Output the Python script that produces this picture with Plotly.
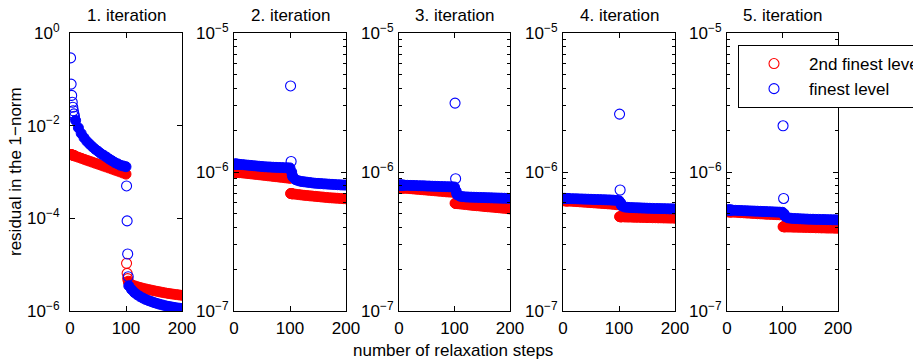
import plotly.graph_objects as go

# ---------------- data ----------------
STEPS = [1, 2, 3, 4, 5, 6, 7, 8,
         10, 15, 20, 25, 30, 35, 40, 45, 50, 55, 60, 65, 70, 75, 80, 85, 90, 95, 100,
         101, 102, 103, 104,
         105, 110, 115, 120, 125, 130, 135, 140, 145, 150, 155, 160, 165, 170, 175, 180, 185, 190, 195, 200]

TITLES = ["1. iteration", "2. iteration", "3. iteration", "4. iteration", "5. iteration"]
SERIES_NAMES = ["2nd finest level", "finest level"]

# finest level (blue)
FINE_1 = [0.29, 0.079, 0.045, 0.032, 0.025, 0.021, 0.018, 0.016,
          0.013, 0.0090, 0.0068, 0.0055, 0.0046, 0.0040, 0.0035, 0.0031, 0.0028, 0.0025, 0.0023, 0.0021,
          0.0019, 0.00175, 0.0016, 0.0015, 0.0014, 0.00135, 0.0013,
          5.0e-4, 8.8e-5, 1.7e-5, 5.5e-6,
          3.5e-6, 2.9e-6, 2.5e-6, 2.25e-6, 2.05e-6, 1.9e-6, 1.78e-6, 1.68e-6, 1.6e-6, 1.52e-6,
          1.46e-6, 1.4e-6, 1.35e-6, 1.3e-6, 1.26e-6, 1.23e-6, 1.2e-6, 1.17e-6, 1.15e-6, 1.13e-6]
FINE_2 = [11.4e-7, 11.4e-7, 11.4e-7, 11.4e-7, 11.4e-7, 11.35e-7, 11.35e-7, 11.35e-7,
          11.35e-7, 11.3e-7, 11.25e-7, 11.2e-7, 11.15e-7, 11.1e-7, 11.05e-7, 11.0e-7, 10.95e-7, 10.9e-7,
          10.88e-7, 10.85e-7, 10.82e-7, 10.8e-7, 10.78e-7, 10.76e-7, 10.74e-7, 10.72e-7, 10.7e-7,
          41.6e-7, 11.9e-7, 10.0e-7, 9.5e-7,
          9.2e-7, 8.8e-7, 8.65e-7, 8.55e-7, 8.5e-7, 8.45e-7, 8.4e-7, 8.35e-7, 8.3e-7, 8.28e-7,
          8.25e-7, 8.22e-7, 8.2e-7, 8.17e-7, 8.15e-7, 8.12e-7, 8.1e-7, 8.08e-7, 8.06e-7, 8.05e-7]
FINE_3 = [8.05e-7, 8.05e-7, 8.05e-7, 8.05e-7, 8.04e-7, 8.04e-7, 8.04e-7, 8.04e-7,
          8.03e-7, 8.02e-7, 8.01e-7, 8.0e-7, 7.99e-7, 7.97e-7, 7.96e-7, 7.95e-7, 7.93e-7, 7.92e-7,
          7.9e-7, 7.89e-7, 7.88e-7, 7.86e-7, 7.85e-7, 7.84e-7, 7.83e-7, 7.82e-7, 7.8e-7,
          31.3e-7, 8.95e-7, 7.3e-7, 7.0e-7,
          6.85e-7, 6.7e-7, 6.65e-7, 6.62e-7, 6.6e-7, 6.59e-7, 6.58e-7, 6.57e-7, 6.56e-7, 6.55e-7,
          6.54e-7, 6.53e-7, 6.52e-7, 6.51e-7, 6.5e-7, 6.49e-7, 6.48e-7, 6.47e-7, 6.465e-7, 6.46e-7]
FINE_4 = [6.46e-7, 6.46e-7, 6.46e-7, 6.46e-7, 6.45e-7, 6.45e-7, 6.45e-7, 6.45e-7,
          6.44e-7, 6.43e-7, 6.42e-7, 6.41e-7, 6.4e-7, 6.39e-7, 6.38e-7, 6.37e-7, 6.36e-7, 6.35e-7,
          6.34e-7, 6.33e-7, 6.32e-7, 6.31e-7, 6.3e-7, 6.29e-7, 6.27e-7, 6.25e-7, 6.22e-7,
          26.1e-7, 7.42e-7, 6.0e-7, 5.8e-7,
          5.7e-7, 5.6e-7, 5.57e-7, 5.55e-7, 5.54e-7, 5.53e-7, 5.52e-7, 5.51e-7, 5.5e-7, 5.49e-7,
          5.48e-7, 5.47e-7, 5.46e-7, 5.46e-7, 5.45e-7, 5.45e-7, 5.44e-7, 5.43e-7, 5.43e-7, 5.42e-7]
FINE_5 = [5.33e-7, 5.33e-7, 5.33e-7, 5.33e-7, 5.32e-7, 5.32e-7, 5.32e-7, 5.32e-7,
          5.31e-7, 5.3e-7, 5.29e-7, 5.28e-7, 5.27e-7, 5.26e-7, 5.25e-7, 5.24e-7, 5.23e-7, 5.22e-7,
          5.21e-7, 5.2e-7, 5.19e-7, 5.18e-7, 5.17e-7, 5.16e-7, 5.15e-7, 5.14e-7, 5.13e-7,
          21.5e-7, 6.45e-7, 5.0e-7, 4.85e-7,
          4.78e-7, 4.68e-7, 4.65e-7, 4.63e-7, 4.62e-7, 4.61e-7, 4.6e-7, 4.59e-7, 4.58e-7, 4.57e-7,
          4.57e-7, 4.56e-7, 4.56e-7, 4.55e-7, 4.55e-7, 4.54e-7, 4.54e-7, 4.53e-7, 4.53e-7, 4.52e-7]

# 2nd finest level (red)
COARSE_1 = [2.39e-3, 2.37e-3, 2.35e-3, 2.33e-3, 2.31e-3, 2.29e-3, 2.27e-3, 2.25e-3,
            2.18e-3, 2.08e-3, 1.98e-3, 1.88e-3, 1.79e-3, 1.71e-3, 1.63e-3, 1.55e-3, 1.48e-3, 1.41e-3,
            1.34e-3, 1.28e-3, 1.22e-3, 1.16e-3, 1.10e-3, 1.05e-3, 1.0e-3, 0.95e-3, 0.9e-3,
            1.07e-5, 6.5e-6, 5.0e-6, 4.4e-6,
            4.0e-6, 3.7e-6, 3.5e-6, 3.35e-6, 3.22e-6, 3.1e-6, 3.0e-6, 2.9e-6, 2.82e-6, 2.74e-6,
            2.66e-6, 2.59e-6, 2.52e-6, 2.46e-6, 2.4e-6, 2.35e-6, 2.3e-6, 2.26e-6, 2.22e-6, 2.18e-6]
COARSE_2 = [10.0e-7, 9.99e-7, 9.98e-7, 9.97e-7, 9.96e-7, 9.95e-7, 9.94e-7, 9.93e-7,
            9.9e-7, 9.85e-7, 9.8e-7, 9.75e-7, 9.7e-7, 9.65e-7, 9.6e-7, 9.55e-7, 9.5e-7, 9.45e-7,
            9.4e-7, 9.35e-7, 9.3e-7, 9.25e-7, 9.2e-7, 9.15e-7, 9.1e-7, 9.05e-7, 9.0e-7,
            7.0e-7, 6.99e-7, 6.98e-7, 6.97e-7,
            6.96e-7, 6.92e-7, 6.88e-7, 6.84e-7, 6.8e-7, 6.77e-7, 6.74e-7, 6.71e-7, 6.68e-7, 6.65e-7,
            6.62e-7, 6.59e-7, 6.56e-7, 6.53e-7, 6.51e-7, 6.49e-7, 6.47e-7, 6.45e-7, 6.43e-7, 6.41e-7]
COARSE_3 = [7.7e-7, 7.69e-7, 7.69e-7, 7.68e-7, 7.68e-7, 7.67e-7, 7.67e-7, 7.66e-7,
            7.65e-7, 7.62e-7, 7.59e-7, 7.56e-7, 7.53e-7, 7.5e-7, 7.47e-7, 7.44e-7, 7.41e-7, 7.38e-7,
            7.35e-7, 7.32e-7, 7.29e-7, 7.26e-7, 7.23e-7, 7.2e-7, 7.18e-7, 7.16e-7, 7.14e-7,
            5.96e-7, 5.95e-7, 5.94e-7, 5.93e-7,
            5.92e-7, 5.89e-7, 5.86e-7, 5.83e-7, 5.8e-7, 5.77e-7, 5.74e-7, 5.72e-7, 5.7e-7, 5.67e-7,
            5.64e-7, 5.62e-7, 5.6e-7, 5.58e-7, 5.55e-7, 5.53e-7, 5.5e-7, 5.48e-7, 5.45e-7, 5.42e-7]
COARSE_4 = [6.22e-7, 6.22e-7, 6.21e-7, 6.21e-7, 6.2e-7, 6.2e-7, 6.19e-7, 6.19e-7,
            6.18e-7, 6.16e-7, 6.14e-7, 6.12e-7, 6.1e-7, 6.08e-7, 6.06e-7, 6.04e-7, 6.02e-7, 6.0e-7,
            5.98e-7, 5.96e-7, 5.94e-7, 5.92e-7, 5.9e-7, 5.88e-7, 5.85e-7, 5.82e-7, 5.8e-7,
            4.77e-7, 4.77e-7, 4.76e-7, 4.76e-7,
            4.76e-7, 4.75e-7, 4.74e-7, 4.74e-7, 4.73e-7, 4.72e-7, 4.72e-7, 4.71e-7, 4.71e-7, 4.7e-7,
            4.7e-7, 4.69e-7, 4.69e-7, 4.68e-7, 4.68e-7, 4.67e-7, 4.67e-7, 4.66e-7, 4.66e-7, 4.65e-7]
COARSE_5 = [5.18e-7, 5.18e-7, 5.17e-7, 5.17e-7, 5.17e-7, 5.16e-7, 5.16e-7, 5.16e-7,
            5.15e-7, 5.13e-7, 5.12e-7, 5.1e-7, 5.09e-7, 5.07e-7, 5.06e-7, 5.04e-7, 5.03e-7, 5.01e-7,
            5.0e-7, 4.99e-7, 4.97e-7, 4.96e-7, 4.95e-7, 4.94e-7, 4.93e-7, 4.92e-7, 4.91e-7,
            4.04e-7, 4.04e-7, 4.04e-7, 4.03e-7,
            4.03e-7, 4.02e-7, 4.02e-7, 4.01e-7, 4.01e-7, 4.0e-7, 4.0e-7, 3.99e-7, 3.99e-7, 3.98e-7,
            3.98e-7, 3.97e-7, 3.97e-7, 3.96e-7, 3.96e-7, 3.95e-7, 3.95e-7, 3.95e-7, 3.94e-7, 3.94e-7]

# steps whose markers stand apart from the dense band
FINE_ISOLATED = [[1, 2, 3, 4, 5, 6, 7, 8, 101, 102, 103, 104], [101, 102], [101, 102], [101, 102], [101, 102]]
COARSE_ISOLATED = [[101, 102, 103], [], [], [], []]

X_TICKS = [0, 100, 200]
Y_TICKS_FIRST = [1e0, 1e-2, 1e-4, 1e-6]
Y_TICKTEXT_FIRST = ["10<sup>0</sup>", "10<sup>−2</sup>", "10<sup>−4</sup>", "10<sup>−6</sup>"]
Y_TICKS_OTHER = [1e-5, 1e-6, 1e-7]
Y_TICKTEXT_OTHER = ["10<sup>−5</sup>", "10<sup>−6</sup>", "10<sup>−7</sup>"]

FINE = [FINE_1, FINE_2, FINE_3, FINE_4, FINE_5]
COARSE = [COARSE_1, COARSE_2, COARSE_3, COARSE_4, COARSE_5]

# ---------------- layout geometry ----------------
# the page body has an 8px margin, so the figure is placed at (8, 8) in the window
OFF = 8
W, H = 921 - OFF, 360 - OFF
PANEL_PX = [(70, 182), (234, 346), (399, 510), (563, 675), (727, 838)]  # window coords
TOP_PX, BOTTOM_PX = 33, 311
FONT = "Liberation Sans, Arial, Helvetica, sans-serif"
FS = 17
RED = "#ff0000"
BLUE = "#0000ff"
MSIZE = 10


def px_x(v):
    return (v - OFF) / W


def px_y(v):
    return 1 - (v - OFF) / H


fig = go.Figure()


def add_series(p, values, isolated, color, name, legend):
    xs = "x" if p == 0 else f"x{p+1}"
    ys = "y" if p == 0 else f"y{p+1}"
    dx = [s for s, v in zip(STEPS, values) if s not in isolated]
    dy = [v for s, v in zip(STEPS, values) if s not in isolated]
    ox = [s for s, v in zip(STEPS, values) if s in isolated]
    oy = [v for s, v in zip(STEPS, values) if s in isolated]
    fig.add_trace(go.Scatter(x=dx, y=dy, mode="markers", xaxis=xs, yaxis=ys,
                             marker=dict(symbol="circle", size=MSIZE, color=color,
                                         line=dict(width=1, color=color)),
                             showlegend=False, hoverinfo="x+y", name=name))
    fig.add_trace(go.Scatter(x=ox if ox else [None], y=oy if oy else [None], mode="markers",
                             xaxis=xs, yaxis=ys,
                             marker=dict(symbol="circle-open", size=MSIZE, color=color,
                                         line=dict(width=1.1, color=color)),
                             showlegend=legend, name=name, hoverinfo="x+y"))


for p in range(5):
    add_series(p, COARSE[p], COARSE_ISOLATED[p], RED, SERIES_NAMES[0], p == 0)
    add_series(p, FINE[p], FINE_ISOLATED[p], BLUE, SERIES_NAMES[1], p == 0)

layout = dict(
    width=W, height=H,
    margin=dict(l=0, r=0, t=0, b=0, autoexpand=False),
    paper_bgcolor="white", plot_bgcolor="white",
    font=dict(family=FONT, size=FS, color="black"),
    showlegend=True,
    legend=dict(x=px_x(738), y=px_y(45), xanchor="left", yanchor="top",
                bgcolor="white", bordercolor="black", borderwidth=1,
                font=dict(family=FONT, size=FS), itemwidth=60,
                tracegroupgap=0),
)

ydom = [px_y(BOTTOM_PX), px_y(TOP_PX)]
minor_vals = [m * 1e-7 for m in range(2, 10)] + [m * 1e-6 for m in range(2, 10)]
annotations = []
for p, (x0, x1) in enumerate(PANEL_PX):
    suffix = "" if p == 0 else str(p + 1)
    xa = dict(domain=[px_x(x0), px_x(x1)], range=[0, 200], tickmode="array", tickvals=X_TICKS,
              ticktext=[str(t) for t in X_TICKS],
              ticks="inside", ticklen=5, tickcolor="black", showline=True, linecolor="black",
              linewidth=1, mirror="ticks", showgrid=False, zeroline=False, anchor="y" + suffix,
              ticklabelstandoff=2, tickfont=dict(size=FS))
    if p == 0:
        ya = dict(type="log", range=[-6, 0], tickmode="array", tickvals=Y_TICKS_FIRST,
                  ticktext=Y_TICKTEXT_FIRST, ticklabelstandoff=6)
    else:
        ya = dict(type="log", range=[-7, -5], tickmode="array", tickvals=Y_TICKS_OTHER,
                  ticktext=Y_TICKTEXT_OTHER, ticklabelstandoff=1,
                  minor=dict(tickmode="array", tickvals=minor_vals, ticks="inside", ticklen=3,
                             tickcolor="black", showgrid=False))
    ya.update(domain=ydom, ticks="inside", ticklen=5, tickcolor="black", showline=True,
              linecolor="black", linewidth=1, mirror="ticks", showgrid=False, zeroline=False,
              anchor="x" + suffix, tickfont=dict(size=FS))
    layout["xaxis" + suffix] = xa
    layout["yaxis" + suffix] = ya
    annotations.append(dict(text=TITLES[p], x=px_x((x0 + x1) / 2), y=px_y(16), xref="paper",
                            yref="paper", showarrow=False, xanchor="center", yanchor="middle",
                            font=dict(size=FS)))

annotations.append(dict(text="number of relaxation steps", x=px_x(453), y=px_y(350),
                        xref="paper", yref="paper", showarrow=False, xanchor="center",
                        yanchor="middle", font=dict(size=FS)))
annotations.append(dict(text="residual in the 1−norm", x=px_x(16), y=px_y(172),
                        xref="paper", yref="paper", showarrow=False, xanchor="center",
                        yanchor="middle", textangle=-90, font=dict(size=FS)))
layout["annotations"] = annotations

fig.update_layout(**layout)
fig.write_html("out.html")
